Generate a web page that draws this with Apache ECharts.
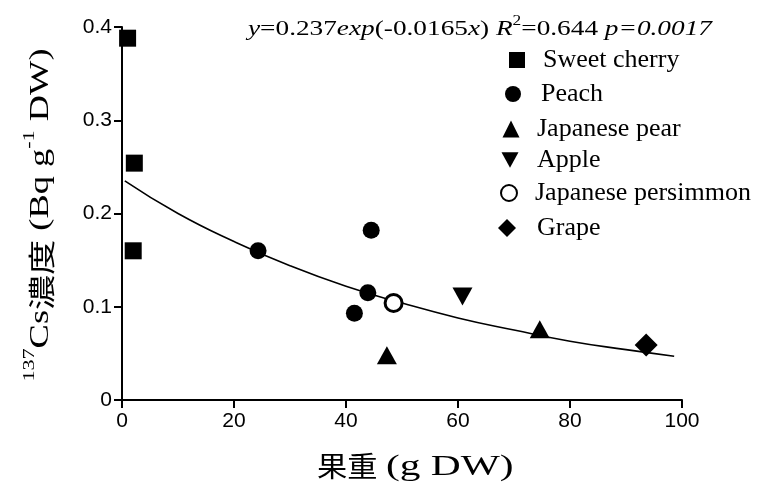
<!DOCTYPE html>
<html><head><meta charset="utf-8">
<script src="https://cdn.jsdelivr.net/npm/echarts@6/dist/echarts.min.js"></script>
<style>html,body{margin:0;padding:0;background:#fff}#c{width:763px;height:486px}</style>
</head><body><div id="c"></div>
<script>
// Data: [fruit dry weight (g DW), 137Cs concentration (Bq/g DW)]
const sweetCherry = [[1.0, 0.388], [2.2, 0.254], [2.0, 0.160]];
const peach = [[24.3, 0.160], [44.5, 0.182], [43.9, 0.115], [41.5, 0.093]];
const japanesePear = [[47.3, 0.048], [74.6, 0.076]];
const apple = [[60.8, 0.111]];
const japanesePersimmon = [[48.5, 0.104]];
const grape = [[93.6, 0.059]];
// Fitted curve as drawn
const fitX = [0.5, 10, 20, 30, 40, 50, 60, 70, 80, 90, 98.6];
const fitY = [0.235, 0.200, 0.170, 0.144, 0.122, 0.104, 0.088, 0.075, 0.063, 0.054, 0.047];
const xTicks = [0, 20, 40, 60, 80, 100];
const yTicks = [0, 0.1, 0.2, 0.3, 0.4];
const seriesNames = ['Sweet cherry', 'Peach', 'Japanese pear', 'Apple', 'Japanese persimmon', 'Grape'];

const chart = echarts.init(document.getElementById('c'), null, {renderer: 'canvas'});
const serif = '"Liberation Serif", "Times New Roman", serif';
const sans = '"Liberation Sans Narrow", "Liberation Sans", Arial, sans-serif';
const cjk = '"Noto Sans CJK JP", sans-serif';
const black = '#000';

const sym = {
  'Sweet cherry': {symbol: 'rect', size: 17, style: {color: black}},
  'Peach': {symbol: 'circle', size: 17, style: {color: black}},
  'Japanese pear': {symbol: 'triangle', size: [20, 18], style: {color: black}},
  'Apple': {symbol: 'path://M0,0 L10,0 L5,9 Z', size: [20, 18], style: {color: black}},
  'Japanese persimmon': {symbol: 'circle', size: 17, style: {color: '#fff', borderColor: black, borderWidth: 3}},
  'Grape': {symbol: 'diamond', size: 23, style: {color: black}}
};
const dataMap = {
  'Sweet cherry': sweetCherry, 'Peach': peach, 'Japanese pear': japanesePear,
  'Apple': apple, 'Japanese persimmon': japanesePersimmon, 'Grape': grape
};

const legendPos = [
  {cx: 517, cy: 60, tx: 543, s: 16},
  {cx: 513, cy: 94, tx: 541, s: 16},
  {cx: 511, cy: 129, tx: 537, s: 17},
  {cx: 510, cy: 160, tx: 537, s: 17},
  {cx: 508, cy: 193, tx: 534, s: 16},
  {cx: 507, cy: 228, tx: 537, s: 18}
];
const legends = seriesNames.map((n, i) => {
  const p = legendPos[i];
  const iw = p.s;
  return {
    data: [n], left: p.cx - iw / 2, top: p.cy - 15, itemWidth: iw, itemHeight: iw,
    padding: 0, selectedMode: false,
    textStyle: {fontFamily: serif, fontSize: 26, color: black, lineHeight: 30,
      padding: [0, 0, 0, p.tx - (p.cx - iw / 2 + iw + 5)]}
  };
});

const scatterSeries = seriesNames.map(n => ({
  name: n, type: 'scatter', data: dataMap[n], symbol: sym[n].symbol, symbolSize: sym[n].size,
  itemStyle: Object.assign({opacity: 1}, sym[n].style), z: 5
}));

const option = {
  animation: false,
  backgroundColor: '#fff',
  grid: {left: 122, right: 81, top: 27, bottom: 86},
  xAxis: {
    type: 'value', min: xTicks[0], max: xTicks[xTicks.length - 1], interval: 20,
    axisLine: {lineStyle: {color: black, width: 2}},
    axisTick: {show: true, length: 8, lineStyle: {color: black, width: 2}},
    axisLabel: {color: black, fontFamily: sans, fontSize: 21, margin: 11},
    splitLine: {show: false}
  },
  yAxis: {
    type: 'value', min: yTicks[0], max: yTicks[yTicks.length - 1], interval: 0.1,
    axisLine: {show: true, lineStyle: {color: black, width: 2}},
    axisTick: {show: true, length: 8, lineStyle: {color: black, width: 2}},
    axisLabel: {color: black, fontFamily: sans, fontSize: 21, margin: 10},
    splitLine: {show: false}
  },
  legend: legends,
  series: [
    {
      name: 'fit', type: 'line', data: fitX.map((x, i) => [x, fitY[i]]), smooth: true,
      showSymbol: false, symbol: 'none', lineStyle: {color: black, width: 1.6}, z: 3, silent: true
    }
  ].concat(scatterSeries),
  graphic: [
    {
      type: 'text', x: 248, y: 27, scaleX: 1.24,
      style: {
        text: '{i|y}{n|=0.237}{i|exp}{n|(-0.0165}{i|x}{n|) }{i|R}{s|2}{n|=0.644 }{i|p=0.0017}',
        verticalAlign: 'middle',
        rich: {
          i: {fontFamily: serif, fontStyle: 'italic', fontSize: 22, fill: black, lineHeight: 26, verticalAlign: 'bottom'},
          n: {fontFamily: serif, fontSize: 22, fill: black, lineHeight: 26, verticalAlign: 'bottom'},
          s: {fontFamily: serif, fontSize: 14, fill: black, lineHeight: 26, verticalAlign: 'top'}
        }
      }
    },
    {
      type: 'text', x: 317, y: 466, scaleX: 1.08,
      style: {text: '果重', fontFamily: cjk, fontSize: 28, fill: black, verticalAlign: 'middle'}
    },
    {
      type: 'text', x: 386, y: 467, scaleX: 1.38,
      style: {text: '(g DW)', fontFamily: serif, fontSize: 30, fill: black, verticalAlign: 'middle'}
    },
    {
      type: 'text', x: 38, y: 215, rotation: Math.PI / 2, scaleX: 1.3,
      style: {
        text: '{s|137}{n|Cs}{c|濃度}{n| (Bq g}{s|-1}{n| DW)}', align: 'center', verticalAlign: 'middle',
        rich: {
          c: {fontFamily: cjk, fontSize: 27, fill: black, lineHeight: 34, verticalAlign: 'bottom'},
          n: {fontFamily: serif, fontSize: 28, fill: black, lineHeight: 34, verticalAlign: 'bottom'},
          s: {fontFamily: serif, fontSize: 17, fill: black, lineHeight: 34, verticalAlign: 'top'}
        }
      }
    }
  ]
};
chart.setOption(option);
</script>
</body></html>
